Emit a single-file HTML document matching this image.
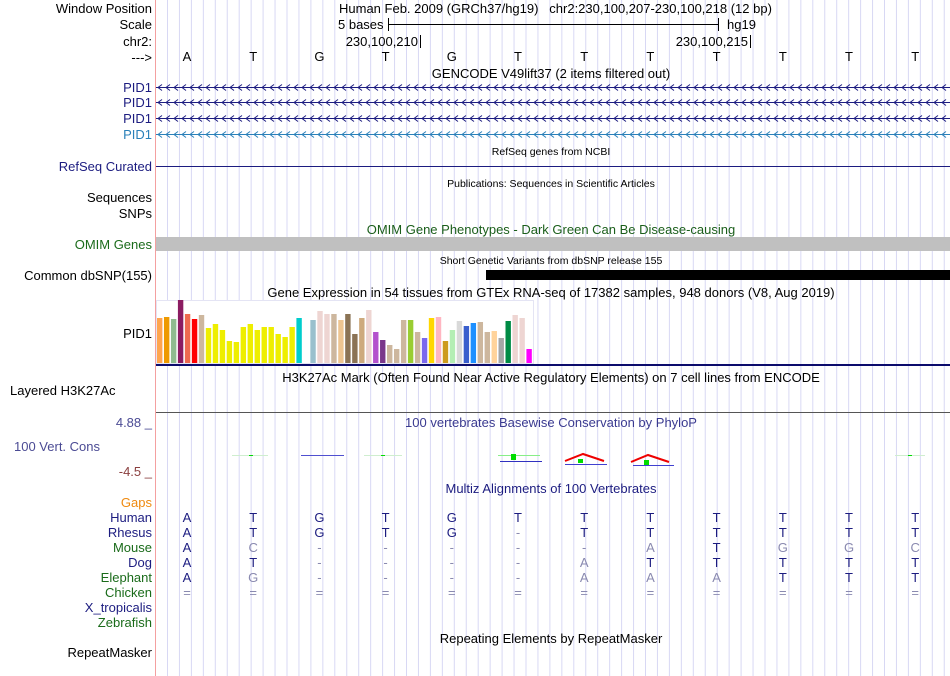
<!DOCTYPE html>
<html><head><meta charset="utf-8"><style>
html,body{margin:0;padding:0;background:#fff}
svg{display:block;font-family:"Liberation Sans",sans-serif}
</style></head><body>
<svg id="c" width="950" height="676" xmlns="http://www.w3.org/2000/svg">
<g id="grid"></g>
<line x1="155.5" y1="0" x2="155.5" y2="676" stroke="#f4a0a0"/>
<g font-size="13" text-anchor="end" id="labels">
<text x="152" y="13">Window Position</text>
<text x="152" y="29">Scale</text>
<text x="152" y="46">chr2:</text>
<text x="152" y="62">---&gt;</text>
<text x="152" y="92" fill="#1c1c80">PID1</text>
<text x="152" y="107" fill="#1c1c80">PID1</text>
<text x="152" y="123" fill="#1c1c80">PID1</text>
<text x="152" y="139" fill="#2a80b9">PID1</text>
<text x="152" y="171" fill="#1c1c80">RefSeq Curated</text>
<text x="152" y="202">Sequences</text>
<text x="152" y="218">SNPs</text>
<text x="152" y="249" fill="#1a6b1a">OMIM Genes</text>
<text x="152" y="280">Common dbSNP(155)</text>
<text x="152" y="338">PID1</text>
<text x="10" y="395" text-anchor="start">Layered H3K27Ac</text>
<text x="152" y="427" fill="#4b4b94">4.88 _</text>
<text x="100" y="451" fill="#4b4b94">100 Vert. Cons</text>
<text x="152" y="476" fill="#8b4040">-4.5 _</text>
<text x="152" y="507" fill="#ef8a10">Gaps</text>
<text x="152" y="522" fill="#1c1c80">Human</text>
<text x="152" y="537" fill="#1c1c80">Rhesus</text>
<text x="152" y="552" fill="#1a6b1a">Mouse</text>
<text x="152" y="567" fill="#1c1c80">Dog</text>
<text x="152" y="582" fill="#1a6b1a">Elephant</text>
<text x="152" y="597" fill="#1a6b1a">Chicken</text>
<text x="152" y="612" fill="#1c1c80">X_tropicalis</text>
<text x="152" y="627" fill="#1a6b1a">Zebrafish</text>
<text x="152" y="657">RepeatMasker</text>
</g>
<g font-size="13">
<text x="339" y="13">Human Feb. 2009 (GRCh37/hg19) &#160; chr2:230,100,207-230,100,218 (12 bp)</text>
<text x="338" y="29">5 bases</text>
<line x1="388" y1="24.5" x2="718" y2="24.5" stroke="#000"/>
<line x1="388.5" y1="18" x2="388.5" y2="31" stroke="#000"/>
<line x1="718.5" y1="18" x2="718.5" y2="31" stroke="#000"/>
<text x="727" y="29">hg19</text>
<text x="418" y="46" text-anchor="end">230,100,210</text>
<line x1="420.5" y1="35" x2="420.5" y2="48" stroke="#000"/>
<text x="748" y="46" text-anchor="end">230,100,215</text>
<line x1="750.5" y1="35" x2="750.5" y2="48" stroke="#000"/>
</g>
<g id="bases" font-size="13" text-anchor="middle"></g>
<g font-size="13" text-anchor="middle">
<text x="551" y="78">GENCODE V49lift37 (2 items filtered out)</text>
<text x="551" y="155" font-size="10.5">RefSeq genes from NCBI</text>
<text x="551" y="187" font-size="10.5">Publications: Sequences in Scientific Articles</text>
<text x="551" y="234" fill="#1a5e1a">OMIM Gene Phenotypes - Dark Green Can Be Disease-causing</text>
<text x="551" y="264" font-size="10.5">Short Genetic Variants from dbSNP release 155</text>
<text x="551" y="297">Gene Expression in 54 tissues from GTEx RNA-seq of 17382 samples, 948 donors (V8, Aug 2019)</text>
<text x="551" y="382">H3K27Ac Mark (Often Found Near Active Regulatory Elements) on 7 cell lines from ENCODE</text>
<text x="551" y="427" fill="#3a3a90">100 vertebrates Basewise Conservation by PhyloP</text>
<text x="551" y="493" fill="#1c1c80">Multiz Alignments of 100 Vertebrates</text>
<text x="551" y="643">Repeating Elements by RepeatMasker</text>
</g>
<g id="gencode"></g>
<line x1="156" y1="166.5" x2="950" y2="166.5" stroke="#1c1c80"/>
<rect x="156" y="237" width="794" height="14" fill="#c0c0c0"/>
<rect x="486" y="270" width="464" height="10" fill="#000"/>
<rect x="156.5" y="300.5" width="377" height="63" fill="#fff" stroke="#e4e4f4"/>
<g id="gtex"></g>
<rect x="156" y="364" width="794" height="2" fill="#0c0c6c"/>
<line x1="156" y1="412.5" x2="950" y2="412.5" stroke="#555"/>
<g>
<line x1="232" y1="455.5" x2="268" y2="455.5" stroke="#cfeecf"/><rect x="249" y="455" width="4" height="1" fill="#0d0"/>
<line x1="301" y1="455.5" x2="344" y2="455.5" stroke="#5050d0"/>
<line x1="364" y1="455.5" x2="402" y2="455.5" stroke="#cfeecf"/><rect x="381" y="455" width="4" height="1" fill="#0d0"/>
<line x1="498" y1="455.5" x2="540" y2="455.5" stroke="#8e8"/><rect x="511" y="454" width="5" height="6" fill="#0d0"/>
<line x1="500" y1="461.5" x2="542" y2="461.5" stroke="#3030c0"/>
<polyline points="565,461 583,454 604,461" fill="none" stroke="#e00" stroke-width="2"/><rect x="578" y="459" width="5" height="4" fill="#0d0"/>
<line x1="565" y1="464.5" x2="607" y2="464.5" stroke="#4040d0"/>
<polyline points="631,462 648,455 669,462" fill="none" stroke="#e00" stroke-width="2"/><rect x="644" y="460" width="5" height="5" fill="#0d0"/>
<line x1="633" y1="465.5" x2="674" y2="465.5" stroke="#4040d0"/>
<line x1="895" y1="455.5" x2="925" y2="455.5" stroke="#cfeecf"/><rect x="908" y="455" width="4" height="1" fill="#0d0"/>
</g>
<g id="multiz" font-size="13" text-anchor="middle"></g>
</svg>
<script>
const NS='http://www.w3.org/2000/svg';
const baseSeq=['A','T','G','T','G','T','T','T','T','T','T','T'];
const gtexValues=[45,46,44,63,49,44,48,35,39,33,22,21,36,39,33,36,36,29,26,36,45,0,43,52,49,49,43,49,29,45,53,31,23,18,14,43,43,31,25,45,46,22,33,42,37,40,41,31,32,25,42,48,45,14];
const gtexColors=['#FFA54F','#EE9A00','#8FBC8F','#8B1C62','#EE6A50','#FF0000','#CDB79E','#EEEE00','#EEEE00','#EEEE00','#EEEE00','#EEEE00','#EEEE00','#EEEE00','#EEEE00','#EEEE00','#EEEE00','#EEEE00','#EEEE00','#EEEE00','#00CDCD','#EEEEEE','#9AC0CD','#EED5D2','#EED5D2','#CDB79E','#EEC591','#8B7355','#8B7355','#CDAA7D','#EED5D2','#B452CD','#7A378B','#CDB79E','#CDB79E','#CDB79E','#9ACD32','#CDB79E','#7B68EE','#FFD700','#FFB6C1','#CD9B1D','#B4EEB4','#D9D9D9','#3A5FCD','#1E90FF','#CDB79E','#CDB79E','#FFD39B','#A6A6A6','#008B45','#EED5D2','#EED5D2','#FF00FF'];
const speciesRows=[
 ['A','T','G','T','G','T','T','T','T','T','T','T'],
 ['A','T','G','T','G','-','T','T','T','T','T','T'],
 ['A','c','-','-','-','-','-','a','T','g','g','c'],
 ['A','T','-','-','-','-','a','T','T','T','T','T'],
 ['A','g','-','-','-','-','a','a','a','T','T','T'],
 ['=','=','=','=','=','=','=','=','=','=','=','=']
];
const gtexMax=63;
function xBase(i){return 187+i*66.2;}
function yBar(v){return 363-v/gtexMax*63;}
const grid=document.getElementById('grid');
for(let x=167.5;x<950;x+=11.95){
 const l=document.createElementNS(NS,'line');
 l.setAttribute('x1',x);l.setAttribute('x2',x);l.setAttribute('y1',0);l.setAttribute('y2',676);
 l.setAttribute('stroke','#d8d8f4');
 
 
 grid.appendChild(l);
}
const gen=document.getElementById('gencode');
[[87.5,'#1c1c80'],[102.5,'#1c1c80'],[118.5,'#1c1c80'],[134.5,'#2a80b9']].forEach(([y,col])=>{
 let d='M156 '+y+' H950';
 for(let x=158;x<948;x+=8){d+=' M'+(x+4)+' '+(y-3)+' L'+x+' '+y+' L'+(x+4)+' '+(y+3);}
 const p=document.createElementNS(NS,'path');
 p.setAttribute('d',d);p.setAttribute('stroke',col);p.setAttribute('fill','none');p.setAttribute('stroke-width','1');
 
 
 gen.appendChild(p);
});
const bases=document.getElementById('bases');
baseSeq.forEach((b,i)=>{
 const t=document.createElementNS(NS,'text');
 t.setAttribute('x',xBase(i));t.setAttribute('y',61);t.textContent=b;
 
 
 bases.appendChild(t);
});
const g=document.getElementById('gtex');
gtexValues.forEach((v,i)=>{
 const r=document.createElementNS(NS,'rect');
 const y=yBar(v);
 r.setAttribute('x',157+i*6.97);r.setAttribute('width',5.4);
 r.setAttribute('y',y);r.setAttribute('height',363-y);
 r.setAttribute('fill',gtexColors[i]);
 
 
 g.appendChild(r);
});
const mz=document.getElementById('multiz');
speciesRows.forEach((row,r)=>{
 row.forEach((c,i)=>{
  const t=document.createElementNS(NS,'text');
  t.setAttribute('x',xBase(i));t.setAttribute('y',522+r*15);
  const low=(c===c.toLowerCase()&&c!=='-'&&c!=='=');
  const grey=low||c==='-'||c==='=';
  t.setAttribute('fill',grey?'#8a8ab0':'#1c1c80');
  t.textContent=c.toUpperCase();
  
  
  mz.appendChild(t);
 });
});
</script>
</body></html>
